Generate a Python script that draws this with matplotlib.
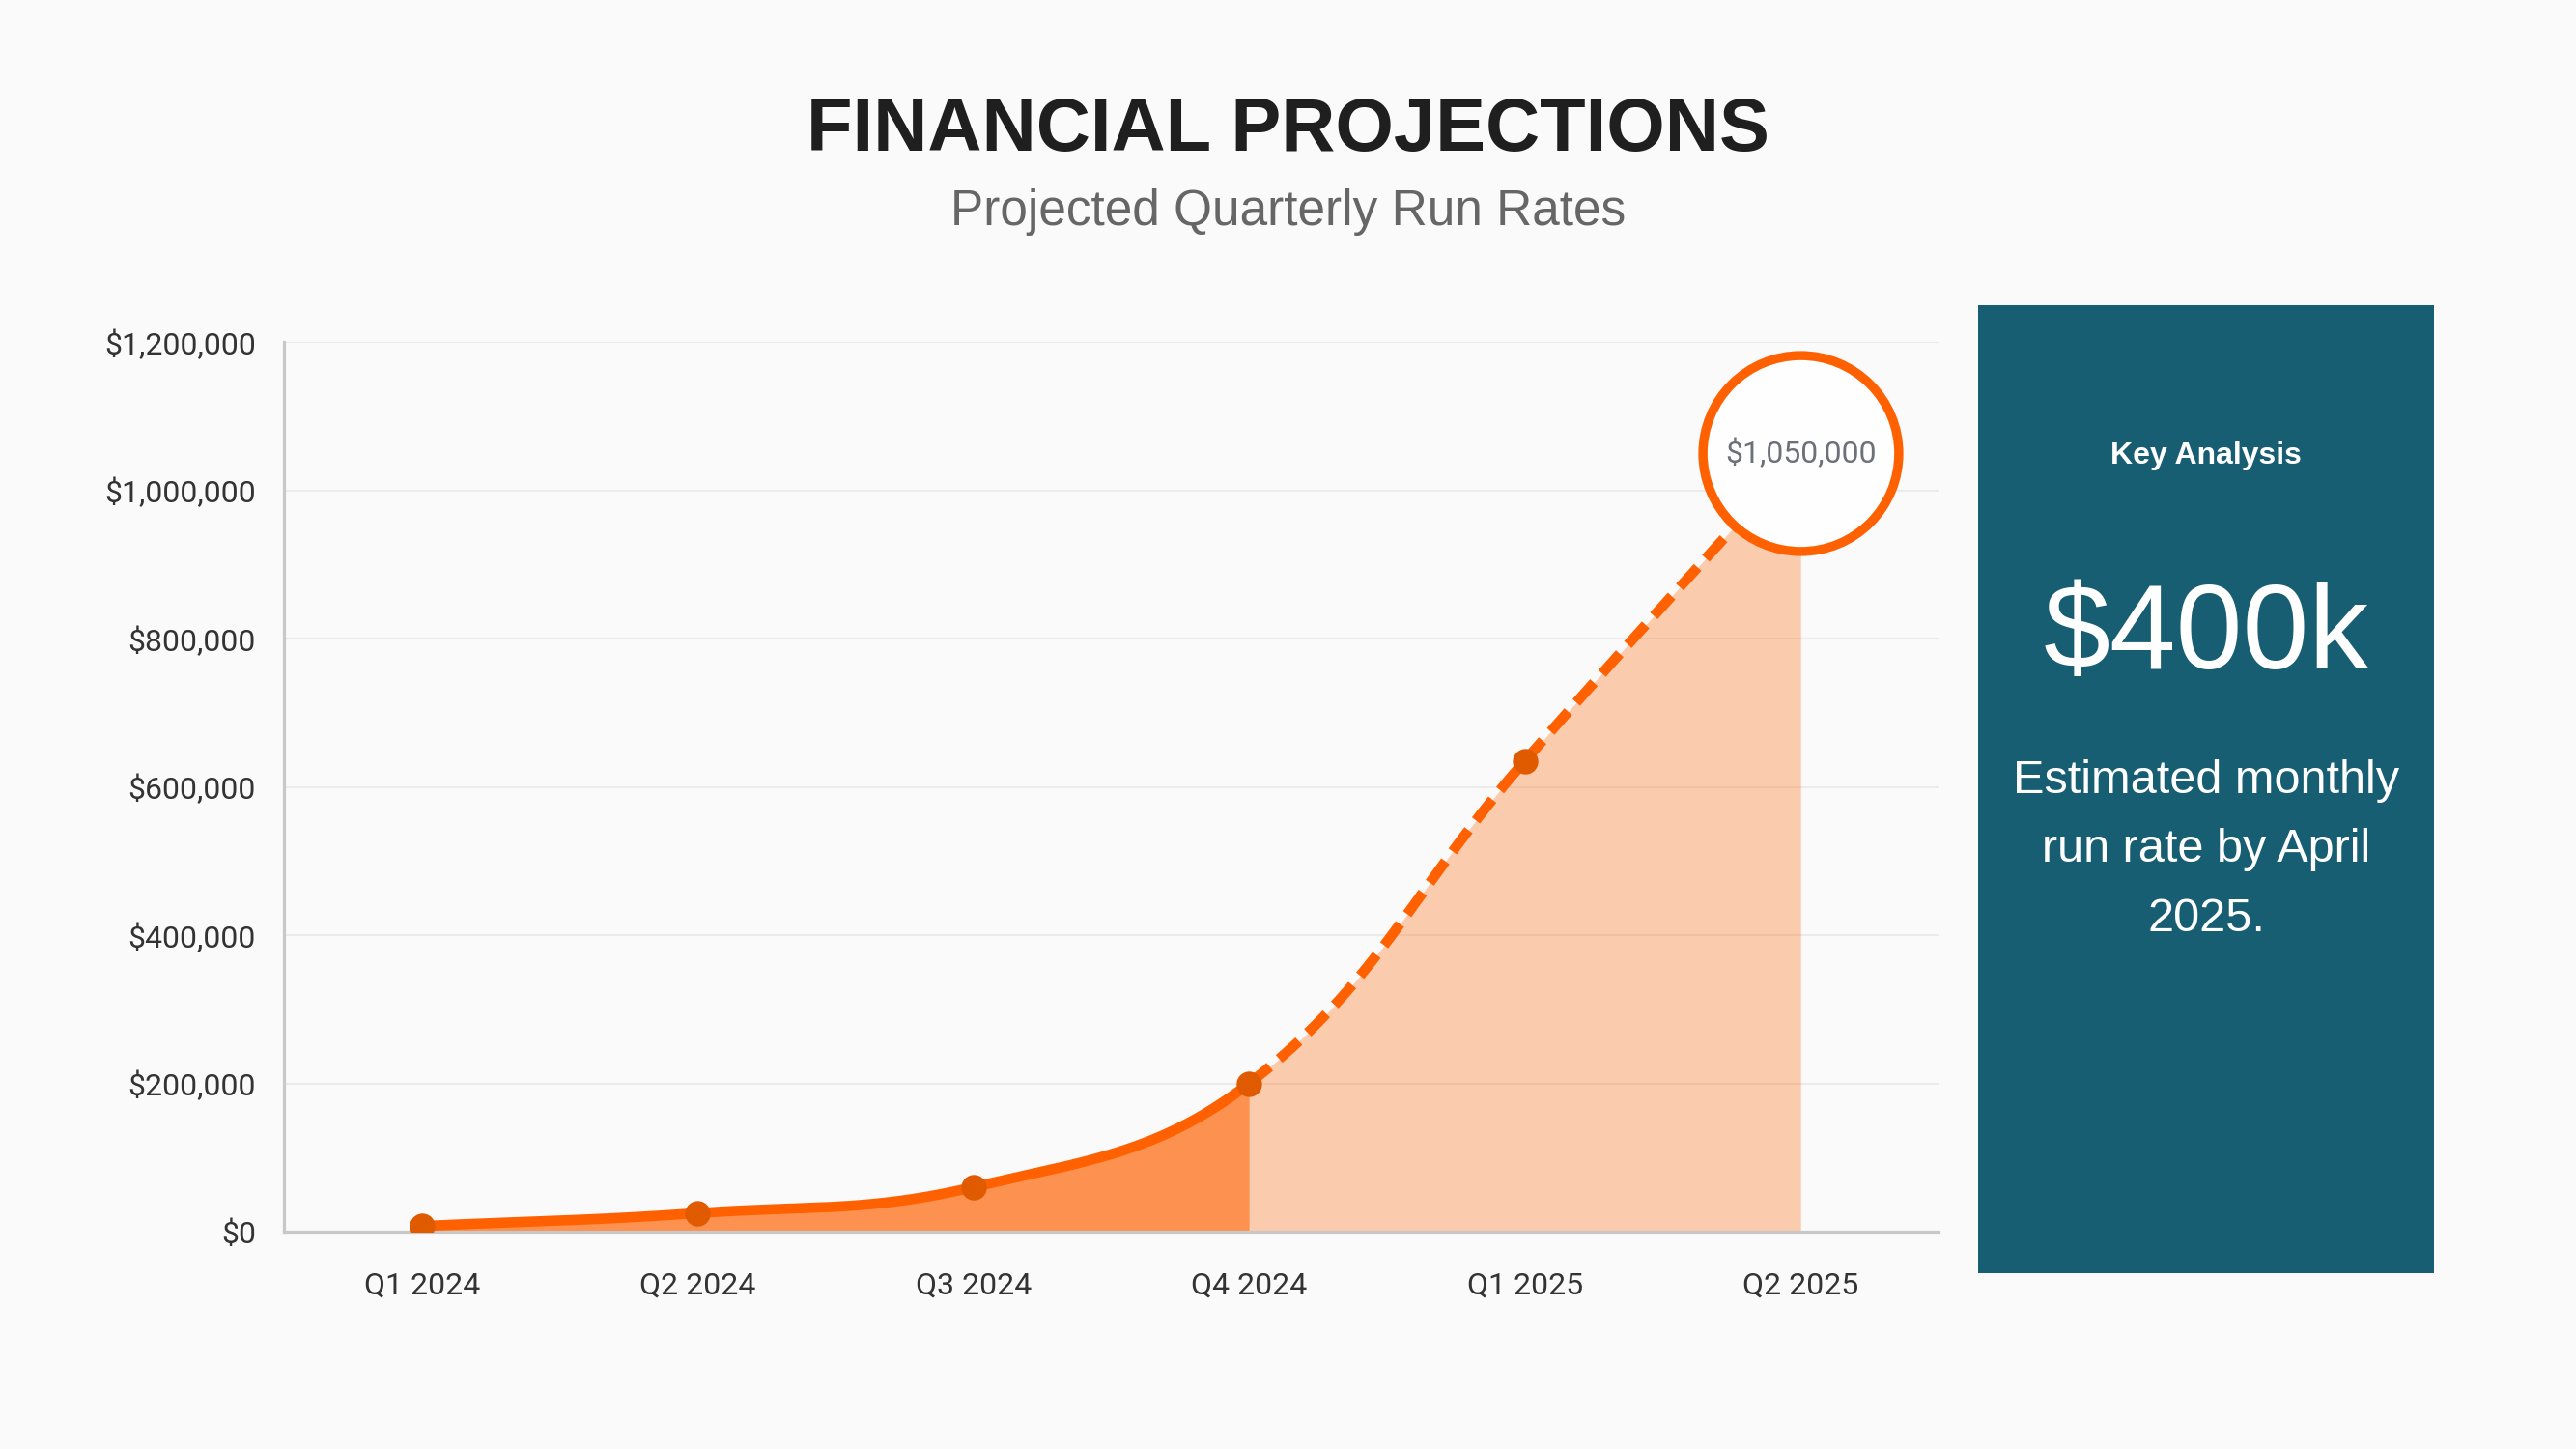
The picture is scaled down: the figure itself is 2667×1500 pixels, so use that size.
import numpy as np
import matplotlib
matplotlib.use("Agg")
import matplotlib.pyplot as plt
from matplotlib.patches import Rectangle

# ---------------- data ----------------
quarters = ["Q1 2024", "Q2 2024", "Q3 2024", "Q4 2024", "Q1 2025", "Q2 2025"]
run_rate = [7500, 25000, 60000, 200000, 635000, 1050000]
last_actual_index = 3          # Q4 2024: actual up to here, projected after
yticks = [0, 200000, 400000, 600000, 800000, 1000000, 1200000]
ytick_labels = ["$0", "$200,000", "$400,000", "$600,000", "$800,000", "$1,000,000", "$1,200,000"]
highlight_label = "$1,050,000"
title = "FINANCIAL PROJECTIONS"
subtitle = "Projected Quarterly Run Rates"
panel_title = "Key Analysis"
panel_value = "$400k"
panel_lines = ["Estimated monthly", "run rate by April", "2025."]

# ---------------- styling ----------------
W, H, DPI = 2667, 1500, 100
BG = "#FAFAFA"
ORANGE = "#FF6000"
POINT = "#E05A00"
PANEL = "#175E73"

fig = plt.figure(figsize=(W / DPI, H / DPI), dpi=DPI, facecolor=BG)

def fx(px):
    return px / W

def fy(py):
    return 1 - py / H

ax = fig.add_axes([fx(294), fy(1275), fx(2007) - fx(294), fy(354) - fy(1275)])
ax.set_facecolor(BG)
ax.set_xlim(-0.5, len(quarters) - 0.5)
ax.set_ylim(0, 1200000)

# Chart.js-like bezier spline computed in pixel space; returns sampled segments
def spline_segments(xs, ys, tension=0.4, n=60):
    pts = ax.transData.transform(np.column_stack([xs, ys]))
    m = len(pts)
    cps_prev, cps_next = [], []
    for i in range(m):
        p = pts[i - 1] if i > 0 else pts[i]
        c = pts[i]
        nx = pts[i + 1] if i < m - 1 else pts[i]
        d01 = np.hypot(*(c - p))
        d12 = np.hypot(*(nx - c))
        tot = d01 + d12
        s01 = d01 / tot if tot else 0
        s12 = d12 / tot if tot else 0
        fa, fb = tension * s01, tension * s12
        cps_prev.append(c - fa * (nx - p))
        cps_next.append(c + fb * (nx - p))
    t = np.linspace(0, 1, n)[:, None]
    segs = []
    inv = ax.transData.inverted()
    for i in range(m - 1):
        P0, P1, P2, P3 = pts[i], cps_next[i], cps_prev[i + 1], pts[i + 1]
        seg = ((1 - t) ** 3) * P0 + 3 * ((1 - t) ** 2) * t * P1 + 3 * (1 - t) * t ** 2 * P2 + t ** 3 * P3
        segs.append(inv.transform(seg))
    return segs

x_idx = np.arange(len(quarters))
segs = spline_segments(x_idx, run_rate)
actual_curve = np.vstack(segs[:last_actual_index])
proj_curve = np.vstack(segs[last_actual_index:])

# grid
ax.set_yticks(yticks)
ax.set_yticklabels(ytick_labels)
ax.set_xticks(x_idx)
ax.set_xticklabels(quarters)
ax.yaxis.grid(True, color="#EBEBEB", linewidth=1.5, zorder=0)
ax.xaxis.grid(False)
ax.set_axisbelow(True)

# fills
ax.fill_between(actual_curve[:, 0], actual_curve[:, 1], 0, color=ORANGE, alpha=0.68, linewidth=0, zorder=1)
ax.fill_between(proj_curve[:, 0], proj_curve[:, 1], 0, color=ORANGE, alpha=0.3, linewidth=0, zorder=1)

# lines
ax.plot(actual_curve[:, 0], actual_curve[:, 1], color=ORANGE, linewidth=7.6,
        solid_capstyle="round", zorder=3)
ax.plot(proj_curve[:, 0], proj_curve[:, 1], color=ORANGE, linewidth=7.6, dashes=(2.6, 1.2), zorder=3)

# points
ax.plot(x_idx[:-1], run_rate[:-1], "o", color=POINT, markersize=19, markeredgewidth=0, zorder=4)

# highlight circle
ax.plot([x_idx[-1]], [run_rate[-1]], "o", markersize=146, markerfacecolor="#FEFEFE",
        markeredgecolor=ORANGE, markeredgewidth=6.8, zorder=5, clip_on=False)
ax.text(x_idx[-1], run_rate[-1], highlight_label, ha="center", va="center",
        fontsize=23, color="#6B7079", family="Roboto", zorder=6)

# spines & ticks
for s in ["top", "right"]:
    ax.spines[s].set_visible(False)
for s in ["left", "bottom"]:
    ax.spines[s].set_color("#C8C8C8")
    ax.spines[s].set_linewidth(2.3)
    ax.spines[s].set_zorder(2)
ax.tick_params(axis="both", length=0)
ax.tick_params(axis="y", pad=21)
ax.tick_params(axis="x", pad=30)
for lab in ax.get_yticklabels() + ax.get_xticklabels():
    lab.set_fontfamily("Roboto")
    lab.set_fontsize(23)
    lab.set_color("#333333")

# titles
fig.text(0.5, fy(156), title, ha="center", va="baseline", fontsize=56, fontweight="bold",
         color="#1F1F1F", family="Liberation Sans")
fig.text(0.5, fy(233), subtitle, ha="center", va="baseline", fontsize=37,
         color="#666666", family="Liberation Sans")

# side panel
fig.patches.append(Rectangle((fx(2048), fy(1318)), fx(2520) - fx(2048), fy(316) - fy(1318),
                             transform=fig.transFigure, facecolor=PANEL, edgecolor="none", zorder=0))
cx = fx(2284)
fig.text(cx, fy(480), panel_title, ha="center", va="baseline", fontsize=23, fontweight="bold",
         color="white", family="Liberation Sans")
fig.text(cx, fy(692), panel_value, ha="center", va="baseline", fontsize=89,
         color="white", family="Liberation Sans")
for i, line in enumerate(panel_lines):
    fig.text(cx, fy(821 + 71.5 * i), line, ha="center", va="baseline", fontsize=35,
             color="white", family="Liberation Sans")

fig.savefig("out.png", dpi=DPI, facecolor=BG)
